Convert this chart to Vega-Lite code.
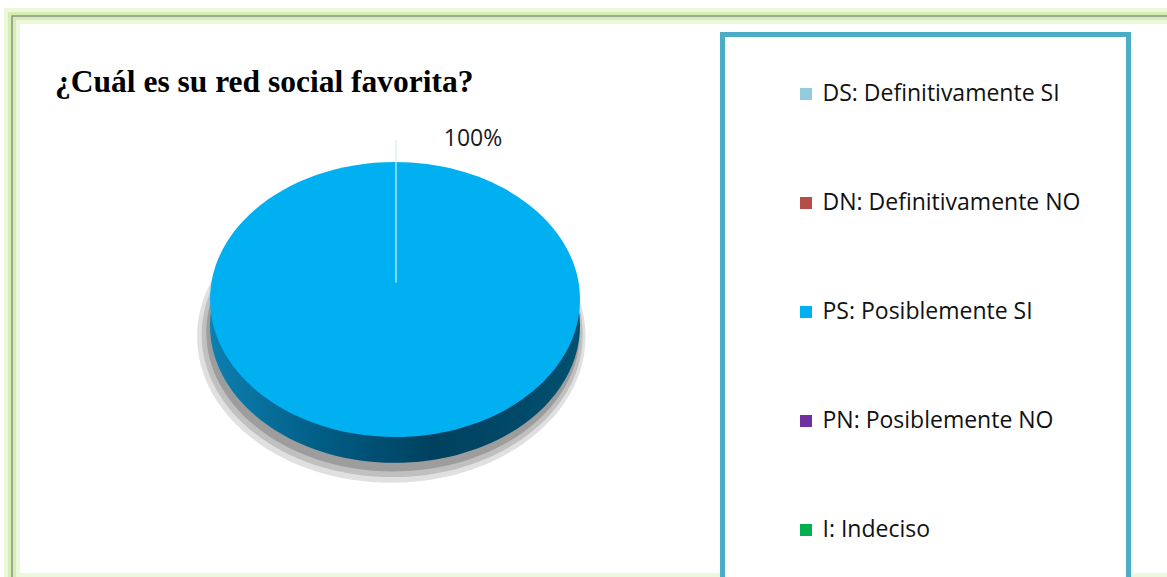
{
  "$schema": "https://vega.github.io/schema/vega-lite/v6.json",
  "autosize": {"type": "none"},
  "padding": {"left": 12, "top": 16, "right": 0, "bottom": 0},
  "width": 1155,
  "height": 561,
  "background": "#ffffff",
  "config": {
    "view": {"stroke": null},
    "legend": {
      "orient": "none",
      "legendX": 710.5,
      "legendY": 18.5,
      "strokeColor": "#4bacc6",
      "strokeWidth": 5,
      "fillColor": "#ffffff",
      "padding": 48,
      "symbolType": "square",
      "symbolSize": 144,
      "symbolOffset": 24,
      "symbolStrokeWidth": 0,
      "labelOffset": 5,
      "labelFont": "Open Sans",
      "labelFontSize": 23,
      "labelColor": "#111111",
      "labelLimit": 0,
      "rowPadding": 85
    }
  },
  "title": {
    "text": "¿Cuál es su red social favorita?",
    "anchor": "start",
    "frame": "group",
    "orient": "top",
    "offset": -115,
    "baseline": "alphabetic",
    "dx": 43,
    "font": "Liberation Serif",
    "fontSize": 31.5,
    "fontWeight": "bold",
    "color": "#000000"
  },
  "data": {
    "values": [
      {"categoria": "DS: Definitivamente SI", "valor": 0},
      {"categoria": "DN: Definitivamente NO", "valor": 0},
      {"categoria": "PS: Posiblemente SI", "valor": 1},
      {"categoria": "PN: Posiblemente NO", "valor": 0},
      {"categoria": "I:  Indeciso", "valor": 0}
    ]
  },
  "transform": [{"filter": "datum.valor > 0"}],
  "layer": [
    {
      "mark": {"type": "rect", "fillOpacity": 0, "stroke": "#ecf8dc", "strokeWidth": 16, "x2Offset": 30, "y2Offset": 4},
      "encoding": {
        "x": {"datum": -1, "type": "quantitative", "scale": {"domain": [-1, 2]}, "axis": null},
        "x2": {"datum": 2},
        "y": {"datum": 1, "type": "quantitative", "scale": {"domain": [-1, 1]}, "axis": null},
        "y2": {"datum": -1}
      }
    },
    {
      "mark": {"type": "rect", "fillOpacity": 0, "stroke": "#d6eeb4", "strokeWidth": 8, "x2Offset": 30, "y2Offset": 4},
      "encoding": {
        "x": {"datum": -1, "type": "quantitative", "scale": {"domain": [-1, 2]}, "axis": null},
        "x2": {"datum": 2},
        "y": {"datum": 1, "type": "quantitative", "scale": {"domain": [-1, 1]}, "axis": null},
        "y2": {"datum": -1}
      }
    },
    {
      "mark": {"type": "rect", "fillOpacity": 0, "stroke": "#8c9388", "strokeWidth": 1.5, "x2Offset": 30, "y2Offset": 4},
      "encoding": {
        "x": {"datum": -1, "type": "quantitative", "scale": {"domain": [-1, 2]}, "axis": null},
        "x2": {"datum": 2},
        "y": {"datum": 1, "type": "quantitative", "scale": {"domain": [-1, 1]}, "axis": null},
        "y2": {"datum": -1}
      }
    },
    {
      "mark": {"type": "point", "filled": true, "size": 136900, "xOffset": -2, "yOffset": 3, "color": "#000000", "opacity": 0.12,
        "shape": "M-1.07,0.2 A1.05,0.79 0 1,1 1.03,0.2 A1.05,0.79 0 1,1 -1.07,0.2 Z"},
      "encoding": {
        "x": {"datum": 0, "type": "quantitative", "scale": {"domain": [-1, 2]}, "axis": null},
        "y": {"datum": 0, "type": "quantitative", "scale": {"domain": [-1, 1]}, "axis": null}
      }
    },
    {
      "mark": {"type": "point", "filled": true, "size": 136900, "xOffset": -2, "yOffset": 3, "color": "#000000", "opacity": 0.14,
        "shape": "M-1.045,0.19 A1.03,0.77 0 1,1 1.015,0.19 A1.03,0.77 0 1,1 -1.045,0.19 Z"},
      "encoding": {
        "x": {"datum": 0, "type": "quantitative", "scale": {"domain": [-1, 2]}, "axis": null},
        "y": {"datum": 0, "type": "quantitative", "scale": {"domain": [-1, 1]}, "axis": null}
      }
    },
    {
      "mark": {"type": "point", "filled": true, "size": 136900, "xOffset": -2, "yOffset": 3, "color": "#000000", "opacity": 0.18,
        "shape": "M-1.02,0.175 A1.01,0.755 0 1,1 1.0,0.175 A1.01,0.755 0 1,1 -1.02,0.175 Z"},
      "encoding": {
        "x": {"datum": 0, "type": "quantitative", "scale": {"domain": [-1, 2]}, "axis": null},
        "y": {"datum": 0, "type": "quantitative", "scale": {"domain": [-1, 1]}, "axis": null}
      }
    },
    {
      "mark": {"type": "point", "filled": true, "size": 136900, "xOffset": -2, "yOffset": 3, "opacity": 1,
        "fill": {"gradient": "linear", "x1": 0, "x2": 1, "y1": 0, "y2": 0,
          "stops": [
            {"offset": 0, "color": "#0e7fb0"},
            {"offset": 0.3, "color": "#005d85"},
            {"offset": 0.6, "color": "#00415f"},
            {"offset": 1, "color": "#00506f"}
          ]},
        "shape": "M-1,0.14 A1,0.743 0 1,1 1,0.14 A1,0.743 0 1,1 -1,0.14 Z"},
      "encoding": {
        "x": {"datum": 0, "type": "quantitative", "scale": {"domain": [-1, 2]}, "axis": null},
        "y": {"datum": 0, "type": "quantitative", "scale": {"domain": [-1, 1]}, "axis": null}
      }
    },
    {
      "mark": {"type": "point", "filled": true, "size": 136900, "xOffset": -2, "yOffset": 3, "opacity": 1,
        "shape": "M-1,0 A1,0.743 0 1,1 1,0 A1,0.743 0 1,1 -1,0 Z"},
      "encoding": {
        "x": {"datum": 0, "type": "quantitative", "scale": {"domain": [-1, 2]}, "axis": null},
        "y": {"datum": 0, "type": "quantitative", "scale": {"domain": [-1, 1]}, "axis": null},
        "color": {
          "field": "categoria",
          "type": "nominal",
          "scale": {
            "domain": ["DS: Definitivamente SI", "DN: Definitivamente NO", "PS: Posiblemente SI", "PN: Posiblemente NO", "I:  Indeciso"],
            "range": ["#93cddd", "#b84c49", "#00b0f0", "#7030a0", "#00b050"]
          },
          "legend": {"title": null}
        }
      }
    },
    {
      "mark": {"type": "point", "filled": false, "size": 136900, "xOffset": -1, "yOffset": 3, "stroke": "#cfeefc", "strokeWidth": 1.2, "opacity": 1,
        "shape": "M0,-0.09 L0,-0.862"},
      "encoding": {
        "x": {"datum": 0, "type": "quantitative", "scale": {"domain": [-1, 2]}, "axis": null},
        "y": {"datum": 0, "type": "quantitative", "scale": {"domain": [-1, 1]}, "axis": null}
      }
    },
    {
      "mark": {"type": "text", "font": "Open Sans", "fontSize": 23, "color": "#1a1a1a", "dx": 76, "dy": -158, "align": "center", "baseline": "middle"},
      "encoding": {
        "x": {"datum": 0, "type": "quantitative", "scale": {"domain": [-1, 2]}, "axis": null},
        "y": {"datum": 0, "type": "quantitative", "scale": {"domain": [-1, 1]}, "axis": null},
        "text": {"field": "valor", "type": "quantitative", "format": ".0%"}
      }
    }
  ]
}
